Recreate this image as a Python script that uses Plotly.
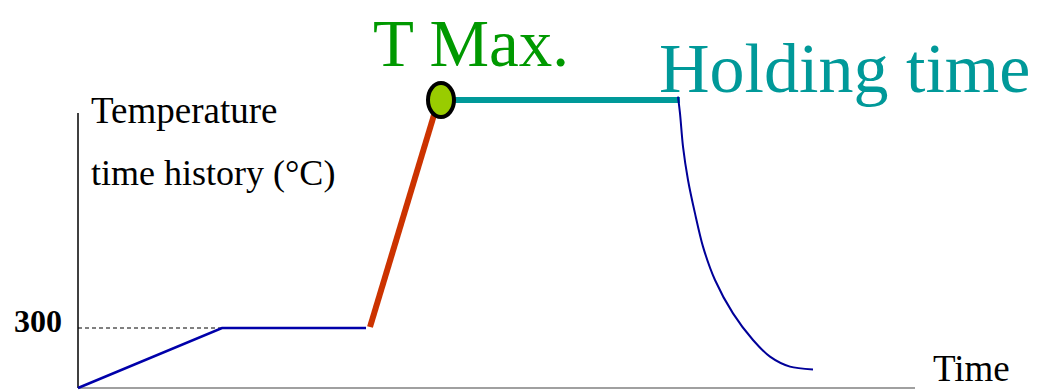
import plotly.graph_objects as go

# Heating profile (time in arbitrary units, temperature in deg C)
heat_time = [0, 144, 288]
heat_temp = [0, 300, 300]

ramp_time = [292, 359]
ramp_temp = [305, 1415]

tmax_time = 363
tmax_temp = 1440

hold_time = [363, 602]
hold_temp = [1440, 1440]

cool_time = [600, 602, 605, 610, 617, 625, 637, 655, 675, 692, 712, 735]
cool_temp = [1457, 1373, 1207, 1040, 873, 707, 540, 373, 240, 157, 107, 93]

preheat_temp = 300
yaxis_top = 1375
xaxis_end = 837

W, H = 1054, 390


def px(x):
    return x / W


def py(y):
    return 1 - y / H


fig = go.Figure()

# axes drawn as lines
fig.add_trace(go.Scatter(x=[0, 0], y=[0, yaxis_top], mode="lines",
                         line=dict(color="black", width=1.5)))
fig.add_trace(go.Scatter(x=[0, xaxis_end], y=[0, 0], mode="lines",
                         line=dict(color="#808080", width=1.5)))
# dashed reference at 300
fig.add_trace(go.Scatter(x=[0, heat_time[1]], y=[preheat_temp, preheat_temp], mode="lines",
                         line=dict(color="black", width=1, dash="4px,3px")))

fig.add_trace(go.Scatter(x=heat_time, y=heat_temp, mode="lines",
                         line=dict(color="#0000aa", width=2.5)))
fig.add_trace(go.Scatter(x=ramp_time, y=ramp_temp, mode="lines",
                         line=dict(color="#cc3300", width=6)))
fig.add_trace(go.Scatter(x=hold_time, y=hold_temp, mode="lines",
                         line=dict(color="#009999", width=6)))
fig.add_trace(go.Scatter(x=cool_time, y=cool_temp, mode="lines",
                         line=dict(color="#000099", width=2, shape="spline", smoothing=0.8)))

# T max marker (slightly oval)
fig.add_shape(type="circle", xref="x", yref="y",
              xsizemode="pixel", ysizemode="pixel",
              xanchor=tmax_time, yanchor=tmax_temp,
              x0=-13, x1=13, y0=-17, y1=17,
              fillcolor="#99cc00", line=dict(color="black", width=4))

serif = "Liberation Serif, Times New Roman, serif"
annots = [
    dict(text="T Max.", x=px(371), y=py(43), xanchor="left", yanchor="middle",
         font=dict(size=67, color="#009900", family=serif)),
    dict(text="Holding time", x=px(657), y=py(68), xanchor="left", yanchor="middle",
         font=dict(size=70, color="#009999", family=serif)),
    dict(text="Temperature", x=px(89), y=py(110), xanchor="left", yanchor="middle",
         font=dict(size=37, color="black", family=serif)),
    dict(text="time history (°C)", x=px(89), y=py(173), xanchor="left", yanchor="middle",
         font=dict(size=36, color="black", family=serif)),
    dict(text="Time", x=px(931), y=py(368), xanchor="left", yanchor="middle",
         font=dict(size=37, color="black", family=serif)),
    dict(text="<b>300</b>", x=px(64), y=py(321), xanchor="right", yanchor="middle",
         font=dict(size=32, color="black", family=serif)),
]
for a in annots:
    fig.add_annotation(xref="paper", yref="paper", showarrow=False, **a)

fig.update_layout(
    width=W, height=H,
    margin=dict(l=0, r=0, t=0, b=0),
    paper_bgcolor="white", plot_bgcolor="white",
    showlegend=False,
    xaxis=dict(range=[-78, 976], visible=False, fixedrange=True),
    yaxis=dict(range=[-10, 1940], visible=False, fixedrange=True),
    hovermode=False,
)

fig.write_html("out.html", config={"displayModeBar": False},
               post_script="document.body.style.margin='0';")
